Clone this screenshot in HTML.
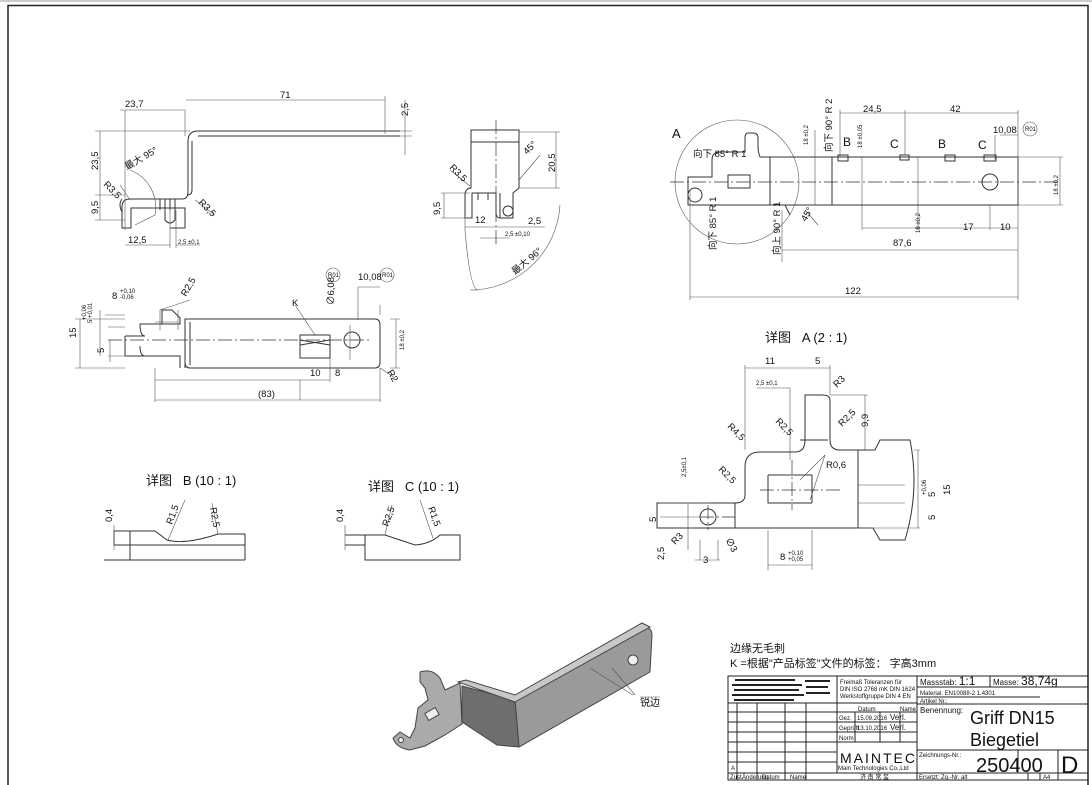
<!DOCTYPE html>
<html><head><meta charset="utf-8"><style>
html,body{margin:0;padding:0;background:#fff;}
svg{display:block;font-family:"Liberation Sans","Noto Sans CJK SC",sans-serif;font-size:9.5px}
.l{stroke:#333;stroke-width:1;fill:none}
.t{stroke:#555;stroke-width:0.6;fill:none}
.c{stroke:#333;stroke-width:0.7;fill:none;stroke-dasharray:14 3 2 3}
text{fill:#111}
.s{font-size:6px}
</style></head><body>
<svg width="1092" height="785" viewBox="0 0 1092 785">
<rect x="0" y="0" width="1092" height="2" fill="#ccc"/>
<polyline points="8,785 8,5.5 1088,5.5 1088,785" fill="none" stroke="#222" stroke-width="1.5"/>

<!-- ===== top-left view ===== -->
<g>
<path class="l" d="M400,131 H198 Q188,131 188,141 V192 Q188,199 182,199 H130 Q122,199 122,207 V228 H131 V208 H185 V228 H170 M192,141 V190 Q192,195 187,195 M198,136 H400"/>
<path class="l" d="M122,199 Q118,204 122,212 M160,199 V210 M170,199 V210 M165,199 V220 Q170,226 175,220 V199"/>
<path class="t" d="M125,110 V230 M185,110 V136 M120,110 H185 M186,100 H385 M385,96 V134 M95,131 H190 M95,195 H125 M95,220 H125 M100,131 V220 M405,100 V155 M400,131 H412 M400,136 H412"/>
<path class="t" d="M125,245 H170 M176,245 H200 M170,210 V248 M176,210 V248 M130,170 A40,40 0 0 1 155,215 L135,225"/>
<path class="t" d="M120,185 L130,200 M195,200 L215,215"/>
<text x="125" y="107">23,7</text><text x="280" y="98">71</text>
<text transform="translate(408,116) rotate(-90)">2,5</text>
<text transform="translate(98,170) rotate(-90)">23,5</text>
<text transform="translate(98,214) rotate(-90)">9,5</text>
<text transform="translate(127,170) rotate(-30)">最大 95°</text>
<text transform="translate(103,185) rotate(45)">R3,5</text>
<text transform="translate(198,203) rotate(45)">R3,5</text>
<text x="128" y="243">12,5</text><text class="s" x="178" y="244">2,5 ±0,1</text>
</g>

<!-- ===== middle-left view ===== -->
<g>
<path class="l" d="M185,319 H375 Q380,319 380,325 V362 Q380,368 375,368 H190 Q185,368 185,362 Z M185,319 V368 M190,322 V365 M125,336 H145 Q140,336 140,324 H180 V318 L172,310 H162 V324 M125,336 V356 M125,356 H180 V368 M145,356 Q140,356 140,346"/>
<path class="l" d="M300,335 H330 V358 H300 Z M300,340 L330,345 M300,345 L330,340"/>
<circle class="l" cx="352" cy="340" r="8"/>
<path class="c" d="M108,340 H372"/>
<path class="t" d="M350,325 V360 M344,340 H360 M108,327 H125 M108,356 H125 M105,315 H125 M75,319 H125 M75,368 H125 M80,319 V368 M100,310 V356 M110,340 V362 M155,322 H178 M160,310 V330 M178,310 V330 M160,310 L190,300 M380,305 V315 M358,287 H380 M358,287 V320 M390,319 H400 M390,368 H400 M396,319 V368 M155,380 H300 V400 M300,380 H330 M330,358 V382 M155,368 V402 M155,400 H380 M380,368 V402 M380,368 L395,378 M295,305 L315,335"/>
<circle class="t" cx="333" cy="275" r="7"/><text class="s" x="328" y="277">R01</text>
<circle class="t" cx="387" cy="275" r="7"/><text class="s" x="382" y="277">R01</text>
<text x="358" y="280">10,08</text>
<text transform="translate(334,305) rotate(-90)">∅6,08</text>
<text x="292" y="306">K</text>
<text class="s" x="120" y="293">+0,10</text><text x="112" y="299">8</text><text class="s" x="120" y="299">-0,06</text>
<text transform="translate(186,297) rotate(-60)">R2,5</text>
<text transform="translate(76,338) rotate(-90)">15</text>
<text transform="translate(104,353) rotate(-90)">5</text>
<text class="s" transform="translate(92,323) rotate(-90)">5 +0,01</text>
<text class="s" transform="translate(86,320) rotate(-90)">+0,06</text>
<text class="s" transform="translate(404,350) rotate(-90)">18 ±0,2</text>
<text x="310" y="376">10</text><text x="335" y="376">8</text>
<text x="258" y="397">(83)</text>
<text transform="translate(387,372) rotate(60)">R2</text>
</g>

<!-- ===== top-middle view ===== -->
<g>
<path class="l" d="M471,130 H519 V188 L513,193 V218 H500 Q496,218 496,213 V193 H472 V218 H465 V194 Q466,188 471,188 Z M471,142 H519 M478,193 V200 M488,193 V200 M500,193 V218"/>
<circle class="l" cx="508" cy="211" r="5"/>
<path class="c" d="M496,120 V245"/>
<path class="t" d="M519,132 H560 M519,188 H560 M556,132 V188 M519,180 L540,155 M441,193 H470 M441,218 H470 M444,193 V218 M465,218 V230 M465,227 H545 M480,238 H510 M465,230 Q470,290 478,290 L470,290 A90,90 0 0 0 560,205"/>
<path class="t" d="M450,170 L470,186"/>
<text transform="translate(555,172) rotate(-90)">20,5</text>
<text transform="translate(527,155) rotate(-45)">45°</text>
<text transform="translate(449,168) rotate(45)">R3,5</text>
<text transform="translate(440,215) rotate(-90)">9,5</text>
<text x="475" y="223">12</text><text x="528" y="224">2,5</text>
<text class="s" x="505" y="236">2,5 ±0,10</text>
<text transform="translate(515,275) rotate(-40)">最大 96°</text>
</g>

<!-- ===== top-right view ===== -->
<g>
<circle class="t" cx="737" cy="182" r="62"/>
<path class="l" d="M780,157 H1018 V205 H780 M780,157 H760 Q758,152 758,146 V138 Q758,133 753,133 H748 Q745,133 745,138 V152 H720 Q712,152 712,160 V177 H688 V205 H700 M700,205 H785 L790,215"/>
<path class="l" d="M728,175 H750 V188 H728 Z M695,195 m-7,0 a7,7 0 1 0 14,0 a7,7 0 1 0 -14,0"/>
<circle class="l" cx="990" cy="182" r="8"/>
<path class="l" d="M838,155 h10 v6 h-10 z M900,155 h9 v5 h-9 z M945,155 h10 v6 h-10 z M984,155 h12 v6 h-12 z M770,157 V205 M832,157 V205"/>
<path class="c" d="M670,182 H1060"/>
<path class="t" d="M840,110 V157 M905,110 V155 M1018,110 V300 M840,113 H1018 M1000,135 H1018 M995,135 V160 M1018,157 H1063 M1018,205 H1063 M1060,157 V205 M815,130 V205 M862,157 V230 M862,228 H1018 M990,205 V230 M782,210 V262 M782,250 H1018 M690,190 V300 M690,297 H1018 M918,157 V230 M805,210 L818,225"/>
<text x="672" y="138" font-size="13">A</text>
<text x="693" y="157">向下 85° R 1</text>
<text transform="translate(716,250) rotate(-90)">向下 85° R 1</text>
<text transform="translate(780,255) rotate(-90)">向上 90° R 1</text>
<text transform="translate(832,152) rotate(-90)">向下 90° R 2</text>
<text x="843" y="146" font-size="12">B</text><text x="890" y="148" font-size="12">C</text>
<text x="938" y="148" font-size="12">B</text><text x="978" y="149" font-size="12">C</text>
<text x="863" y="112">24,5</text><text x="950" y="112">42</text>
<text x="993" y="133">10,08</text>
<circle class="t" cx="1030" cy="129" r="7"/><text class="s" x="1025" y="131">R01</text>
<text class="s" transform="translate(808,145) rotate(-90)">18 ±0,2</text>
<text class="s" transform="translate(862,148) rotate(-90)">18 ±0,05</text>
<text class="s" transform="translate(920,233) rotate(-90)">18 ±0,2</text>
<text class="s" transform="translate(1058,195) rotate(-90)">18 ±0,2</text>
<text x="963" y="230">17</text><text x="1000" y="230">10</text>
<text x="893" y="246">87,6</text><text x="845" y="294">122</text>
<text transform="translate(806,222) rotate(-60)">45°</text>
</g>

<!-- ===== detail A ===== -->
<g>
<text x="765" y="342" font-size="13">详图 &#160; A (2 : 1)</text>
<path class="l" d="M657,528 H873 L880,540 H905 Q920,490 910,440 L880,440 L875,450 H840 Q830,450 830,440 V400 Q830,395 822,395 H805 V440 Q805,452 795,452 H760 Q745,452 745,467 V495 Q745,503 735,503 H657 Z"/>
<path class="l" d="M800,440 H828 M735,503 V528 M858,450 V528"/>
<circle class="l" cx="708" cy="517" r="8"/>
<path class="l" d="M768,475 H812 M768,475 V503 H812 M812,475 V503"/>
<path class="c" d="M700,517 H735 M760,490 H840 M792,460 V510 M708,505 V530"/>
<path class="t" d="M745,365 V450 M745,368 H830 M830,365 V395 M790,388 V460 M757,388 H790 M830,395 H868 M865,395 V450 M800,480 L825,455 L810,500 M858,485 H905 M858,503 H905 M858,528 H920 M918,450 V528 M914,450 H920 M688,503 V528 M660,503 H710 M660,517 H700 M688,528 V550 M700,540 V560 M718,540 V560 M695,560 H720 M768,530 V570 M812,530 V570 M768,565 H812"/>
<text x="765" y="364">11</text><text x="815" y="364">5</text>
<text class="s" x="756" y="385">2,5 ±0,1</text>
<text transform="translate(837,388) rotate(-45)">R3</text>
<text transform="translate(775,422) rotate(45)">R2,5</text>
<text transform="translate(842,427) rotate(-45)">R2,5</text>
<text transform="translate(868,427) rotate(-90)">9,9</text>
<text transform="translate(727,427) rotate(45)">R4,5</text>
<text transform="translate(718,470) rotate(45)">R2,5</text>
<text x="826" y="468">R0,6</text>
<text class="s" transform="translate(686,477) rotate(-90)">2,5±0,1</text>
<text transform="translate(656,522) rotate(-90)">5</text>
<text transform="translate(664,560) rotate(-90)">2,5</text>
<text transform="translate(675,545) rotate(-45)">R3</text>
<text transform="translate(725,540) rotate(60)">∅3</text>
<text x="703" y="563">3</text>
<text x="780" y="560">8</text><text class="s" x="788" y="555">+0,10</text><text class="s" x="788" y="561">+0,05</text>
<text transform="translate(950,495) rotate(-90)">15</text>
<text transform="translate(935,520) rotate(-90)">5</text>
<text transform="translate(935,497) rotate(-90)">5</text>
<text class="s" transform="translate(926,495) rotate(-90)">+0,06</text>
</g>

<!-- ===== detail B & C ===== -->
<g>
<text x="146" y="485" font-size="13">详图 &#160; B (10 : 1)</text>
<path class="l" d="M114,531 H155 L167,540 Q185,545 218,534 H245 V560 M114,531 V545 H245 M130,531 V560 M104,560 H245"/>
<path class="t" d="M168,540 L185,500 M218,534 L212,503 M114,525 V550"/>
<text transform="translate(112,522) rotate(-90)">0,4</text>
<text transform="translate(172,525) rotate(-70)">R1,5</text>
<text transform="translate(210,508) rotate(80)">R2,5</text>
<text x="368" y="491" font-size="13">详图 &#160; C (10 : 1)</text>
<path class="l" d="M345,535 H385 Q400,540 415,545 Q430,544 440,535 H460 V560 H365 V535 M345,545 H365"/>
<path class="t" d="M385,535 L392,505 M433,538 L420,500 M345,525 V550"/>
<text transform="translate(343,522) rotate(-90)">0,4</text>
<text transform="translate(388,527) rotate(-70)">R2,5</text>
<text transform="translate(428,508) rotate(70)">R1,5</text>
</g>

<!-- ===== 3D view ===== -->
<g stroke="#444" stroke-width="1">
<path d="M515,700 L644,628 Q652,627 652,635 L650,672 L519,747 Z" fill="#9a9a9a"/>
<path d="M462,686 L515,700 L519,747 L497,745 L462,722 Z" fill="#6e6e6e"/>
<path d="M458,682 L466,680 L515,695 L642,623 L650,627 L515,702 Z" fill="#c8c8c8"/>
<path d="M420,672 Q432,668 440,678 L445,690 L460,683 L462,724 L445,735 L425,746 L410,750 Q396,748 393,738 L400,732 L410,738 L415,728 L418,708 L428,700 L425,688 L420,682 Z" fill="#aaa"/>
<rect x="426" y="710" width="12" height="8" fill="#eee" transform="rotate(-30 432 714)"/>
<circle cx="633" cy="660" r="5" fill="#eee"/>
<circle cx="401" cy="740" r="2.5" fill="#eee"/>
</g>
<path class="t" d="M590,668 L633,695 M612,668 L635,695 M640,697 H660"/>
<text x="640" y="706" font-size="10">锐边</text>

<!-- ===== notes & title block ===== -->
<text x="730" y="652" font-size="11">边缘无毛刺</text>
<text x="730" y="667" font-size="11">K =根据"产品标签"文件的标签：  字高3mm</text>
<g stroke="#222" stroke-width="1" fill="none">
<rect x="728" y="676" width="360" height="104"/>
<path d="M728,703 H917 M917,676 V780 M837,676 V773 M990,676 V687 M917,687 H1088 M917,697 H1040 M917,704 H1088 M917,750 H1088 M1058,750 V780 M917,773 H1088 M728,712 H837 M728,722 H837 M728,732 H837 M728,742 H837 M728,752 H837 M728,762 H837 M728,773 H917 M737,703 V780 M757,703 V780 M785,703 V780 M806,703 V780 M837,712 H917 M837,722 H917 M837,732 H917 M837,742 H917 M855,712 V742 M880,712 V742 M900,712 V742 M1028,773 V780 M1040,773 V780 M1018,750 V773"/>
</g>
<g fill="#222">
<rect x="735" y="679" width="60" height="2"/><rect x="732" y="684" width="70" height="2"/><rect x="734" y="689" width="65" height="2"/><rect x="732" y="694" width="72" height="2"/><rect x="734" y="699" width="60" height="2"/>
<rect x="805" y="680" width="25" height="2"/><rect x="806" y="686" width="22" height="2"/><rect x="806" y="692" width="24" height="2"/>
</g>
<text class="s" x="840" y="684">Freimaß Toleranzen für</text>
<text class="s" x="840" y="691">DIN ISO 2768 mK  DIN 1624</text>
<text class="s" x="840" y="698">Werkstoffgruppe DIN 4 EN</text>
<text class="s" x="858" y="711">Datum</text><text class="s" x="900" y="711">Name</text>
<text class="s" x="839" y="720">Gez.</text><text class="s" x="857" y="720">15.09.2016</text><text x="890" y="720" font-size="8">Verl.</text>
<text class="s" x="839" y="730">Geprüft</text><text class="s" x="857" y="730">13.10.2016</text><text x="890" y="730" font-size="8">Verl.</text>
<text class="s" x="839" y="740">Norm</text>
<text x="840" y="763" font-size="14" letter-spacing="2">MAINTEC</text>
<text class="s" x="838" y="770">Main Technologies Co.,Ltd</text>
<text class="s" x="860" y="779">济 南 常 玺</text>
<text class="s" x="731" y="770">A</text>
<text class="s" x="730" y="779">Zust.</text><text class="s" x="742" y="779">Änderung</text><text class="s" x="762" y="779">Datum</text><text class="s" x="790" y="779">Name</text>
<text x="920" y="685" font-size="8">Massstab: <tspan font-size="12">1:1</tspan></text>
<text x="993" y="685" font-size="8">Masse: <tspan font-size="12">38,74g</tspan></text>
<text class="s" x="920" y="695">Material: EN10088-2 1.4301</text>
<text class="s" x="920" y="703">Artikel Nr.:</text>
<text x="920" y="713" font-size="8">Benennung:</text>
<text x="970" y="724" font-size="18">Griff DN15</text>
<text x="970" y="746" font-size="18">Biegetiel</text>
<text class="s" x="919" y="757">Zeichnungs-Nr.:</text>
<text x="976" y="772" font-size="20">250400</text>
<text x="1061" y="773" font-size="24">D</text>
<text class="s" x="919" y="779">Ersetzt: Zg.-Nr. alt</text>
<text class="s" x="1043" y="779">A4</text>
</svg>
</body></html>
